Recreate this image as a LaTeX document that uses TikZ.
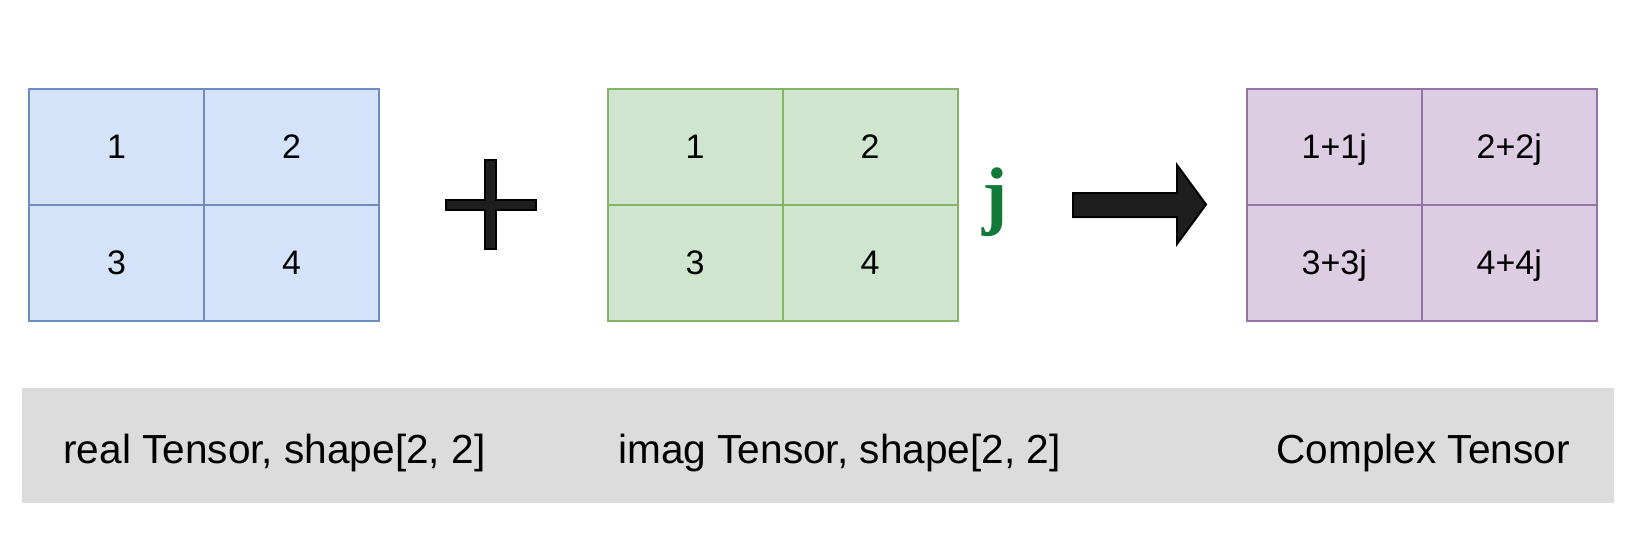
\documentclass[tikz,border=0pt]{standalone}
\usepackage{fontspec}
\setmainfont{Liberation Sans}
\newfontfamily\jfont{Liberation Serif}
\definecolor{bluefill}{HTML}{D4E3FA}
\definecolor{bluedraw}{HTML}{6C8EBF}
\definecolor{greenfill}{HTML}{D0E5CE}
\definecolor{greendraw}{HTML}{82B366}
\definecolor{purplefill}{HTML}{DCCDE3}
\definecolor{purpledraw}{HTML}{9673A6}
\definecolor{bandfill}{HTML}{DCDCDC}
\definecolor{jgreen}{HTML}{127A38}
\definecolor{shapefill}{HTML}{1E1E1E}
\begin{document}
\begin{tikzpicture}[x=0.5pt,y=-0.5pt,
  cell/.style={draw, line width=1pt, inner sep=0pt, minimum width=87.5pt, minimum height=58pt,
    font=\fontsize{17}{20}\selectfont, text height=12.3pt, text depth=0pt},
  bluecell/.style={cell, draw=bluedraw, fill=bluefill},
  greencell/.style={cell, draw=greendraw, fill=greenfill},
  purplecell/.style={cell, draw=purpledraw, fill=purplefill},
  bandtext/.style={anchor=base west, inner sep=0pt, font=\fontsize{20.3}{24}\selectfont},
  solidshape/.style={fill=shapefill, draw=black, line width=1pt, line join=miter}
]
\useasboundingbox (0,0) rectangle (1638,538);
% gray band
\node[fill=bandfill, inner sep=0pt, minimum width=796pt, minimum height=57.7pt, anchor=north west] (band) at (21.5,387.5) {};
% blue grid
\node[bluecell] (b11) at (116.5,146.5) {1};
\node[bluecell] (b12) at (291.5,146.5) {2};
\node[bluecell] (b21) at (116.5,262.5) {3};
\node[bluecell] (b22) at (291.5,262.5) {4};
% plus
\draw[solidshape] (446,200) -- (485,200) -- (485,160) -- (496,160) -- (496,200) -- (536,200)
  -- (536,210) -- (496,210) -- (496,249) -- (485,249) -- (485,210) -- (446,210) -- cycle;
% green grid
\node[greencell] (g11) at (695,146.5) {1};
\node[greencell] (g12) at (870,146.5) {2};
\node[greencell] (g21) at (695,262.5) {3};
\node[greencell] (g22) at (870,262.5) {4};
% j
\node[anchor=base, inner sep=0pt, text=jgreen, font=\jfont\bfseries\fontsize{38}{42}\selectfont] (jlabel) at (995,220) {j};
% arrow
\draw[solidshape] (1073,193) -- (1177,193) -- (1177,165) -- (1206,204.5) -- (1177,244) -- (1177,217) -- (1073,217) -- cycle;
% purple grid
\node[purplecell] (p11) at (1334.2,146.5) {1+1j};
\node[purplecell] (p12) at (1509.2,146.5) {2+2j};
\node[purplecell] (p21) at (1334.2,262.5) {3+3j};
\node[purplecell] (p22) at (1509.2,262.5) {4+4j};
% labels
\node[bandtext] (lreal) at (63,463) {real Tensor, shape[2, 2]};
\node[bandtext] (limag) at (618,463) {imag Tensor, shape[2, 2]};
\node[bandtext] (lcomplex) at (1276,463) {Complex Tensor};
\end{tikzpicture}
\end{document}
